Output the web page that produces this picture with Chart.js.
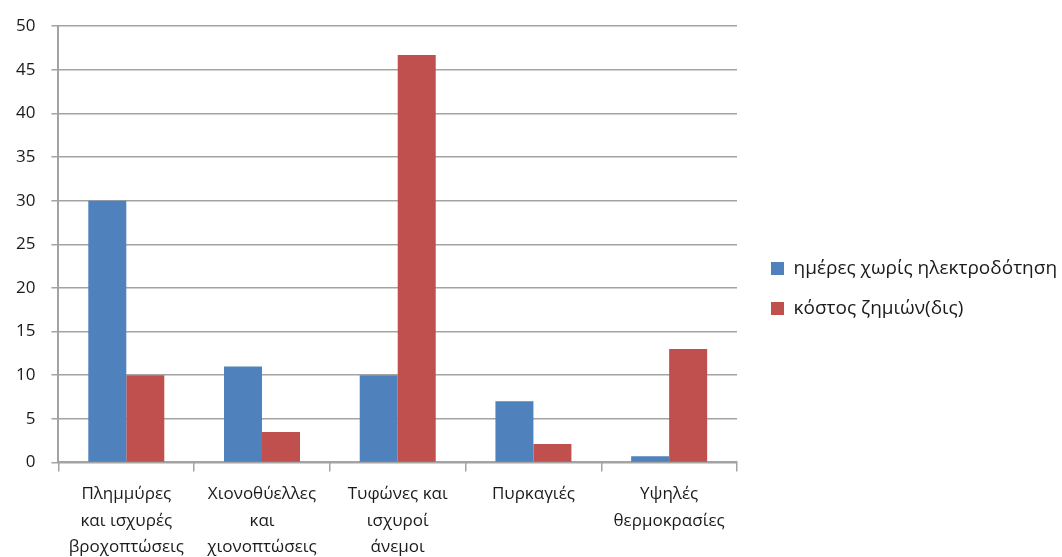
<!DOCTYPE html>
<html>
<head>
<meta charset="utf-8">
<script src="https://cdn.jsdelivr.net/npm/chart.js@4.4.1/dist/chart.umd.min.js"></script>
<style>
    html, body { margin: 0; padding: 0; background: #fff; }
    #wrap { width: 1062px; height: 557px; position: relative; }
</style>
</head>
<body>
<div id="wrap"><canvas id="damageChart"></canvas></div>
<script>
// Chart data
const categories = [
    ['Πλημμύρες', 'και ισχυρές', 'βροχοπτώσεις'],
    ['Χιονοθύελλες', 'και', 'χιονοπτώσεις'],
    ['Τυφώνες και', 'ισχυροί', 'άνεμοι'],
    ['Πυρκαγιές'],
    ['Υψηλές', 'θερμοκρασίες']
];
const daysWithoutPower = [30, 11, 10, 7, 0.7];
const damageCost = [10, 3.5, 46.7, 2.1, 13];
const seriesNames = ['ημέρες χωρίς ηλεκτροδότηση', 'κόστος ζημιών(δις)'];
const yTicks = [0, 5, 10, 15, 20, 25, 30, 35, 40, 45, 50];

(function() {
    'use strict';

    const fontFamily = "'Open Sans', 'Noto Sans', sans-serif";
    const gridGray = '#a3a3a3';
    const textColor = '#1a1a1a';

    // legend column: fixed width, nudged away from the plot area
    const legendBox = {
        id: 'legendBox',
        beforeLayout(chart) {
            const lg = chart.legend;
            if (!lg || lg._fixedFit) return;
            const fit = lg.fit;
            lg.fit = function() {
                fit.call(this);
                this.width = 325;
            };
            lg._fixedFit = true;
        },
        afterLayout(chart) {
            const lg = chart.legend;
            if (!lg) return;
            lg.left += 13;
            lg.right += 13;
            lg.top -= 8;
            lg.bottom -= 8;
        }
    };

    const ctx = document.getElementById('damageChart');

    new Chart(ctx, {
        type: 'bar',
        data: {
            labels: categories,
            datasets: [
                {
                    label: seriesNames[0],
                    data: daysWithoutPower,
                    backgroundColor: '#4f81bd',
                    borderWidth: 0
                },
                {
                    label: seriesNames[1],
                    data: damageCost,
                    backgroundColor: '#c0504d',
                    borderWidth: 0
                }
            ]
        },
        options: {
            responsive: true,
            maintainAspectRatio: false,
            animation: false,
            categoryPercentage: 0.56,
            barPercentage: 1.0,
            layout: {
                padding: { top: 23, left: 0, right: 0, bottom: -13 }
            },
            plugins: {
                legend: {
                    position: 'right',
                    labels: {
                        font: { size: 19, family: fontFamily },
                        color: textColor,
                        boxWidth: 13,
                        boxHeight: 13,
                        padding: 21
                    }
                },
                tooltip: { enabled: false }
            },
            scales: {
                x: {
                    afterFit: function(scale) {
                        scale.paddingLeft = 0;
                        scale.paddingRight = 0;
                    },
                    grid: {
                        drawOnChartArea: false,
                        drawTicks: true,
                        tickLength: 9,
                        color: gridGray,
                        lineWidth: 1.5
                    },
                    border: { color: gridGray, width: 2 },
                    ticks: {
                        font: { size: 17, family: fontFamily, lineHeight: 1.58 },
                        color: textColor,
                        maxRotation: 0,
                        autoSkip: false,
                        padding: 9
                    }
                },
                y: {
                    min: 0,
                    max: 50,
                    afterBuildTicks: function(axis) {
                        axis.ticks = yTicks.map(v => ({ value: v }));
                    },
                    grid: {
                        color: gridGray,
                        lineWidth: 1.5,
                        tickLength: 7
                    },
                    border: { color: gridGray, width: 2 },
                    ticks: {
                        font: { size: 17, family: fontFamily },
                        color: textColor,
                        padding: 16
                    }
                }
            }
        },
        plugins: [legendBox]
    });
})();
</script>
</body>
</html>
